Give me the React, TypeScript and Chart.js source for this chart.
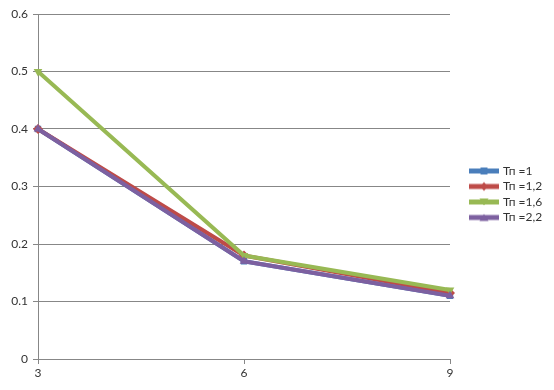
import React, { useEffect, useRef } from "react";
import { Chart, registerables } from "chart.js";

Chart.register(...registerables);

const categories = ["3", "6", "9"];
const seriesNames = ["Тп =1", "Тп =1,2", "Тп =1,6", "Тп =2,2"];
const tp1 = [0.4, 0.17, 0.11];
const tp12 = [0.4, 0.18, 0.115];
const tp16 = [0.5, 0.18, 0.12];
const tp22 = [0.4, 0.17, 0.11];
const seriesColors = ["#4a7ebb", "#be4b48", "#98b954", "#7d60a0"];
const seriesMarkers = ["rect", "rectRot", "triangleDown", "triangle"];
const yTicks = [0, 0.1, 0.2, 0.3, 0.4, 0.5, 0.6];

const FONT = "Lato, 'Open Sans', 'DejaVu Sans', sans-serif";
const GRID = "#878787";
const TEXT = "#333333";

const LEGEND_PAD = 3.5;
const LEGEND_FONT = 12;
const LEGEND_BOX = 12;
const TEXT_START = 503;
const LINE_START = 469;
const LINE_END = 499;

function drawMarker(ctx: CanvasRenderingContext2D, kind: string, x: number, y: number, r: number) {
  ctx.beginPath();
  if (kind === "rect") {
    ctx.rect(x - r, y - r, 2 * r, 2 * r);
  } else if (kind === "rectRot") {
    ctx.moveTo(x, y - r - 1);
    ctx.lineTo(x + r, y);
    ctx.lineTo(x, y + r + 1);
    ctx.lineTo(x - r, y);
    ctx.closePath();
  } else if (kind === "triangleDown") {
    ctx.moveTo(x - r - 1, y - r);
    ctx.lineTo(x + r + 1, y - r);
    ctx.lineTo(x, y + r);
    ctx.closePath();
  } else {
    ctx.moveTo(x - r - 1, y + r);
    ctx.lineTo(x + r + 1, y + r);
    ctx.lineTo(x, y - r);
    ctx.closePath();
  }
  ctx.fill();
}

// icon is drawn centred at (itemX + LEGEND_BOX/2); itemX = TEXT_START - LEGEND_BOX - LEGEND_FONT/2
function legendIcon(color: string, kind: string) {
  const itemX = TEXT_START - LEGEND_BOX - LEGEND_FONT / 2;
  const cx = itemX + LEGEND_BOX / 2;
  const half = Math.max(cx - LINE_START, LINE_END - cx);
  const w = Math.ceil(half * 2);
  const left = cx - w / 2;
  const c = document.createElement("canvas");
  c.width = w;
  c.height = 12;
  const ctx = c.getContext("2d")!;
  ctx.strokeStyle = color;
  ctx.fillStyle = color;
  ctx.lineWidth = 5;
  ctx.beginPath();
  ctx.moveTo(LINE_START - left, 6);
  ctx.lineTo(LINE_END - left, 6);
  ctx.stroke();
  drawMarker(ctx, kind, (LINE_START + LINE_END) / 2 - left, 6, 3.5);
  return c;
}

const legendPlacer = {
  id: "legendPlacer",
  beforeLayout(chart: any) {
    const lg = chart.legend;
    if (lg && !lg.__patched) {
      const origFit = lg.fit;
      lg.fit = function () {
        origFit.call(this);
        this.width = 104;
      };
      const origDraw = lg.draw;
      lg.draw = function () {
        if (typeof this._draw === "function") this._draw();
        else origDraw.call(this);
      };
      lg.__patched = true;
    }
  },
  afterLayout(chart: any) {
    const lg = chart.legend;
    if (!lg) return;
    const n = chart.data.datasets.length;
    const colH = n * (LEGEND_FONT + LEGEND_PAD);
    const itemX = TEXT_START - LEGEND_BOX - LEGEND_FONT / 2;
    lg.left = itemX - LEGEND_PAD;
    lg.right = 554;
    lg.top = 171 - LEGEND_FONT / 2 - LEGEND_PAD;
    lg.bottom = lg.top + colH + LEGEND_PAD;
  },
};

export default function App() {
  const ref = useRef<HTMLCanvasElement | null>(null);

  useEffect(() => {
    document.body.style.margin = "0";
    const values = [tp1, tp12, tp16, tp22];
    const orders = [4, 3, 2, 1];
    const icons = seriesColors.map((c, i) => legendIcon(c, seriesMarkers[i]));
    const datasets = seriesNames.map((name, i) => {
      const marker = seriesMarkers[i];
      return {
        label: name,
        data: values[i],
        borderColor: seriesColors[i],
        backgroundColor: seriesColors[i],
        borderWidth: 4,
        pointStyle: marker === "triangleDown" ? "triangle" : marker,
        rotation: marker === "triangleDown" ? 180 : 0,
        pointRadius: marker === "rect" ? 4.5 : 5,
        pointBorderWidth: 0,
        pointBackgroundColor: seriesColors[i],
        tension: 0,
        fill: false,
        order: orders[i],
      };
    });

    const chart = new Chart(ref.current!, {
      type: "line",
      data: { labels: categories, datasets: datasets as any },
      plugins: [legendPlacer],
      options: {
        animation: false,
        responsive: false,
        maintainAspectRatio: false,
        layout: { padding: { top: 14, right: 0, left: 0, bottom: 0 } },
        plugins: {
          tooltip: { enabled: false },
          legend: {
            position: "right",
            align: "center",
            labels: {
              usePointStyle: true,
              boxWidth: LEGEND_BOX,
              boxHeight: LEGEND_BOX,
              padding: LEGEND_PAD,
              color: TEXT,
              font: { family: FONT, size: LEGEND_FONT },
              generateLabels: (ch: any) =>
                ch.data.datasets.map((ds: any, i: number) => ({
                  text: ds.label,
                  fillStyle: ds.borderColor,
                  strokeStyle: ds.borderColor,
                  lineWidth: 0,
                  pointStyle: icons[i],
                  hidden: false,
                  datasetIndex: i,
                  fontColor: TEXT,
                })),
            },
          },
        },
        scales: {
          x: {
            type: "category",
            offset: false,
            grid: {
              display: true,
              drawOnChartArea: false,
              drawTicks: true,
              tickLength: 5,
              color: GRID,
            },
            border: { display: true, color: GRID, width: 1 },
            ticks: {
              color: TEXT,
              font: { family: FONT, size: 12 },
              padding: 2,
              maxRotation: 0,
            },
            afterFit: (s: any) => {
              s.height = 31;
            },
          },
          y: {
            min: 0,
            max: 0.6,
            afterBuildTicks: (s: any) => {
              s.ticks = yTicks.map((v) => ({ value: v }));
            },
            grid: {
              color: GRID,
              tickLength: 5,
              drawTicks: true,
            },
            border: { display: true, color: GRID, width: 1 },
            ticks: {
              color: TEXT,
              font: { family: FONT, size: 12 },
              padding: 5,
              callback: (v: any) => String(Math.round(Number(v) * 10) / 10),
            },
            afterFit: (s: any) => {
              s.width = 38;
            },
          },
        },
      },
    });
    return () => chart.destroy();
  }, []);

  return (
    <div style={{ width: 554, height: 390, background: "#fff" }}>
      <canvas ref={ref} width={554} height={390} style={{ display: "block" }} />
    </div>
  );
}
